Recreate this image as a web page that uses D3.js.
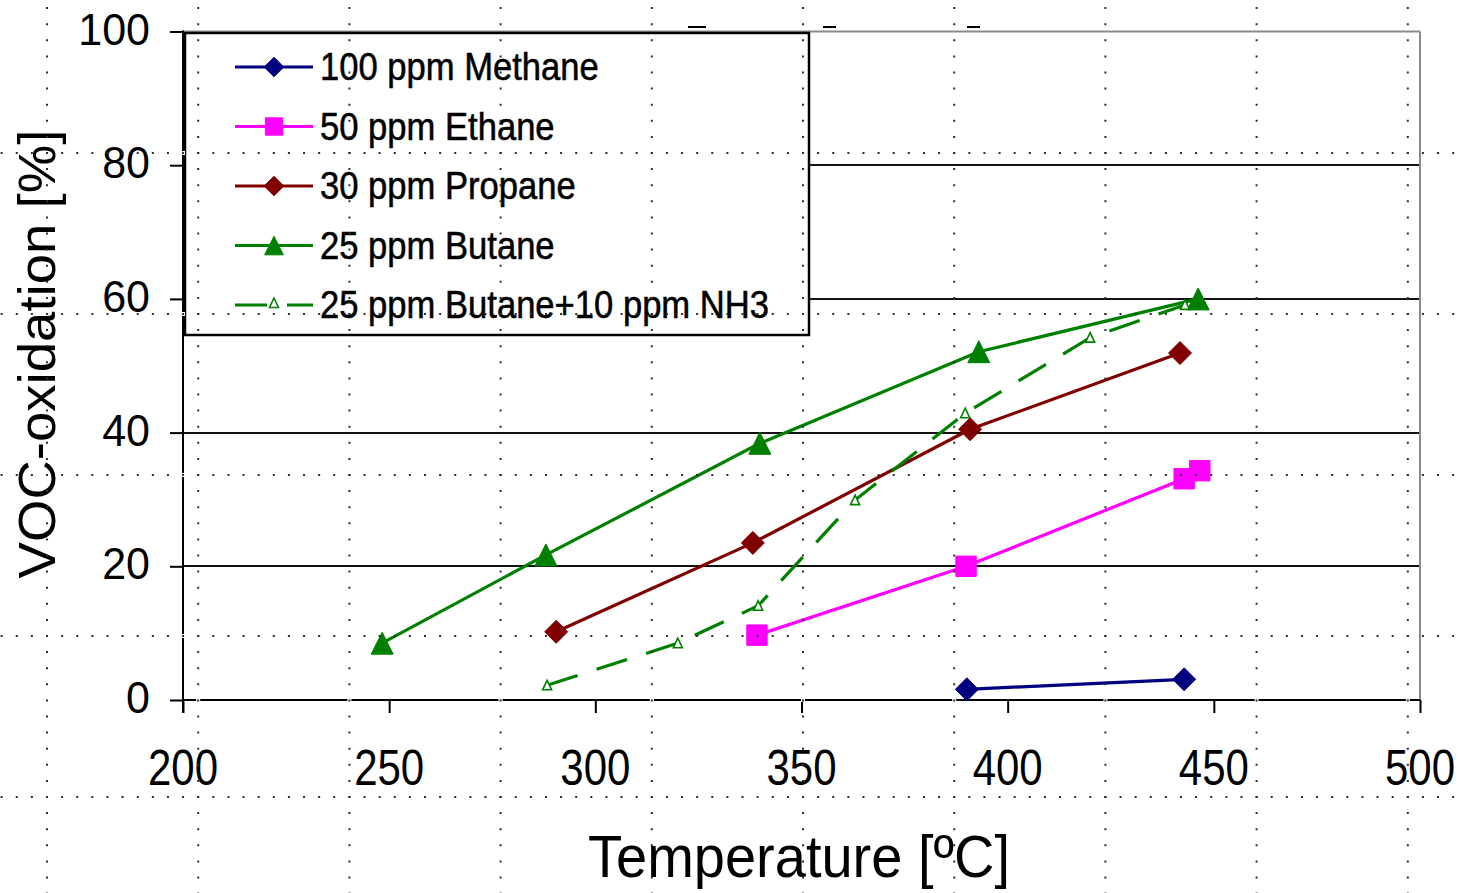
<!DOCTYPE html>
<html>
<head>
<meta charset="utf-8">
<script src="https://cdn.jsdelivr.net/npm/d3@7"></script>
<style>
  html, body { margin: 0; padding: 0; background: #fff; }
  svg { display: block; }
  text { font-family: "Liberation Sans", Arial, Helvetica, sans-serif; fill: #000; }
</style>
</head>
<body>
<svg id="chart" width="1459" height="893"></svg>
<script>
// ---- data: temperature [ºC] vs VOC oxidation [%] ----
const methaneT   = [390.1, 442.8];
const methaneV   = [1.6, 3.1];
const ethaneT    = [339.2, 389.9, 442.8, 446.6];
const ethaneV    = [9.7, 20.0, 33.1, 34.3];
const propaneT   = [290.5, 338.2, 390.9, 441.8];
const propaneV   = [10.2, 23.5, 40.5, 51.9];
const butaneT    = [248.3, 288.0, 339.9, 393.0, 446.2];
const butaneV    = [8.5, 21.7, 38.4, 52.1, 60.0];
const butaneNh3T = [288.3, 320.0, 339.5, 363.0, 389.7, 420.0, 443.0];
const butaneNh3V = [2.2, 8.5, 14.1, 29.9, 42.9, 54.2, 59.1];

const seriesNames = ["100 ppm Methane", "50 ppm Ethane", "30 ppm Propane",
                     "25 ppm Butane", "25 ppm Butane+10 ppm NH3"];
const xTicks = [200, 250, 300, 350, 400, 450, 500];
const yTicks = [0, 20, 40, 60, 80, 100];
const gridValues = [20, 40, 60, 80];
const xTitle = "Temperature [ºC]";
const yTitle = "VOC-oxidation [%]";

// ---- styling per series ----
const seriesStyle = [
  { color: "#000080", marker: "diamond",  dashed: false },
  { color: "#ff00ff", marker: "square",   dashed: false },
  { color: "#800000", marker: "diamond",  dashed: false },
  { color: "#008000", marker: "triangle", dashed: false },
  { color: "#008000", marker: "openTri",  dashed: true  }
];
const seriesData = [
  [methaneT, methaneV], [ethaneT, ethaneV], [propaneT, propaneV],
  [butaneT, butaneV], [butaneNh3T, butaneNh3V]
].map(([t, v], i) => ({
  name: seriesNames[i],
  style: seriesStyle[i],
  points: t.map((x, j) => ({ x, y: v[j] }))
}));

// ---- layout ----
const W = 1459, H = 893;
const plot = { left: 183, right: 1420, top: 31.5, bottom: 700 };
const x = d3.scaleLinear().domain([200, 500]).range([plot.left, plot.right]);
const y = d3.scaleLinear().domain([0, 100]).range([plot.bottom, plot.top]);

const svg = d3.select("#chart");

// marker outlines, size scaled by k
function markerPath(type, k) {
  const p = d3.path();
  if (type === "diamond") {
    const w = 11.5 * k, h = 11.5 * k;
    p.moveTo(0, -h); p.lineTo(w, 0); p.lineTo(0, h); p.lineTo(-w, 0); p.closePath();
  } else if (type === "square") {
    const s = 10.2 * k;
    p.rect(-s, -s, 2 * s, 2 * s);
  } else if (type === "triangle") {
    const s = 11 * k;
    p.moveTo(0, -s); p.lineTo(s, s); p.lineTo(-s, s); p.closePath();
  } else {
    p.moveTo(0, -5); p.lineTo(4.5, 4.5); p.lineTo(-4.5, 4.5); p.closePath();
  }
  return p.toString();
}
function drawMarker(g, type, color, k) {
  const open = type === "openTri";
  g.append("path")
    .attr("d", markerPath(type, k))
    .attr("fill", open ? "#fff" : color)
    .attr("stroke", color)
    .attr("stroke-width", open ? 1.6 : 1);
}

// ---- horizontal gridlines ----
svg.append("g").selectAll("line").data(gridValues).join("line")
  .attr("x1", plot.left).attr("x2", plot.right)
  .attr("y1", d => Math.round(y(d))).attr("y2", d => Math.round(y(d)))
  .attr("stroke", "#111").attr("stroke-width", 2);

// ---- plot frame (top & right in grey) ----
svg.append("line")
  .attr("x1", plot.left).attr("x2", plot.right)
  .attr("y1", plot.top).attr("y2", plot.top)
  .attr("stroke", "#8a8a8a").attr("stroke-width", 2);
svg.append("line")
  .attr("x1", plot.right).attr("x2", plot.right)
  .attr("y1", plot.top).attr("y2", plot.bottom)
  .attr("stroke", "#8a8a8a").attr("stroke-width", 2);

// ---- axes ----
const tickLen = 13;
const xAxisG = svg.append("g").attr("transform", `translate(0,${plot.bottom})`)
  .call(d3.axisBottom(x).tickValues(xTicks).tickSize(tickLen).tickPadding(0).tickFormat(""));
const yAxisG = svg.append("g").attr("transform", `translate(${plot.left},0)`)
  .call(d3.axisLeft(y).tickValues(yTicks).tickSize(tickLen).tickPadding(0).tickFormat(""));
[xAxisG, yAxisG].forEach(g => {
  g.selectAll("line").attr("stroke", "#000").attr("stroke-width", 2);
  g.select(".domain").remove();
});
svg.append("line")
  .attr("x1", plot.left).attr("x2", plot.right)
  .attr("y1", plot.bottom).attr("y2", plot.bottom)
  .attr("stroke", "#000").attr("stroke-width", 2);
svg.append("line")
  .attr("x1", plot.left).attr("x2", plot.left)
  .attr("y1", plot.top - 1).attr("y2", plot.bottom + tickLen)
  .attr("stroke", "#000").attr("stroke-width", 2);

// tick labels
svg.append("g").selectAll("text").data(xTicks).join("text")
  .attr("transform", d => `translate(${x(d)},${plot.bottom + 85}) scale(1,1.2)`)
  .attr("text-anchor", "middle")
  .attr("font-size", 42)
  .text(d => d);
svg.append("g").selectAll("text").data(yTicks).join("text")
  .attr("transform", d => `translate(150,${y(d) + 13}) scale(1,1.03)`)
  .attr("text-anchor", "end")
  .attr("font-size", 43)
  .text(d => d);

// axis titles
svg.append("text")
  .attr("transform", `translate(799,877) scale(1,1.05)`)
  .attr("text-anchor", "middle")
  .attr("font-size", 56)
  .text(xTitle);
svg.append("text")
  .attr("transform", `translate(55,354) rotate(-90) scale(1.05,1)`)
  .attr("text-anchor", "middle")
  .attr("font-size", 52)
  .text(yTitle);

// ---- series lines and markers ----
const line = d3.line().x(d => x(d.x)).y(d => y(d.y));
const dash = "32,20";
const seriesG = svg.append("g");
seriesData.forEach(s => {
  seriesG.append("path")
    .datum(s.points)
    .attr("d", line)
    .attr("fill", "none")
    .attr("stroke", s.style.color)
    .attr("stroke-width", 3.2)
    .attr("stroke-dasharray", s.style.dashed ? dash : null);
});
seriesData.forEach(s => {
  s.points.forEach(p => {
    const g = seriesG.append("g").attr("transform", `translate(${x(p.x)},${y(p.y)})`);
    drawMarker(g, s.style.marker, s.style.color, 1);
  });
});

// ---- legend ----
const legend = svg.append("g");
legend.append("rect")
  .attr("x", 185).attr("y", 33).attr("width", 624).attr("height", 302)
  .attr("fill", "#fff").attr("stroke", "#000").attr("stroke-width", 2.5);
seriesData.forEach((s, i) => {
  const cy = 67 + i * 59.5;
  const row = legend.append("g").attr("transform", `translate(0,${cy})`);
  row.append("line")
    .attr("x1", 235).attr("x2", 313).attr("y1", 0).attr("y2", 0)
    .attr("stroke", s.style.color).attr("stroke-width", 3)
    .attr("stroke-dasharray", s.style.dashed ? dash : null);
  const m = row.append("g").attr("transform", `translate(274,${s.style.dashed ? -2 : 0})`);
  drawMarker(m, s.style.marker, s.style.color, 0.85);
  row.append("text")
    .attr("transform", `translate(320,13) scale(1,1.1)`)
    .attr("font-size", 34.6)
    .attr("stroke", "#000").attr("stroke-width", 0.5)
    .text(s.name);
});

// ---- remnants of a clipped heading above the frame ----
const headingBits = [[688, 706], [823, 836], [967, 980]];
svg.append("g").selectAll("line").data(headingBits).join("line")
  .attr("x1", d => d[0]).attr("x2", d => d[1])
  .attr("y1", 27).attr("y2", 27)
  .attr("stroke", "#000").attr("stroke-width", 2);

// ---- dotted page grid over the figure ----
const sheetCols = d3.range(10).map(i => 47 + i * 151.2);
const sheetRows = d3.range(5).map(i => 153 + i * 161);
const sheet = svg.append("g");
// the page grid breaks the axis lines where it crosses them
sheet.selectAll("rect.gx").data(sheetCols.filter(c => c > plot.left && c < plot.right + 5)).join("rect")
  .attr("x", d => d - 2).attr("y", plot.bottom - 2).attr("width", 4).attr("height", 4).attr("fill", "#fff");
sheet.selectAll("rect.gy").data(sheetRows.filter(r => r > plot.top && r < plot.bottom)).join("rect")
  .attr("x", plot.left - 2).attr("y", d => d - 2).attr("width", 4).attr("height", 4).attr("fill", "#fff");
sheet.selectAll("line.v").data(sheetCols).join("line")
  .attr("x1", d => d).attr("x2", d => d)
  .attr("y1", 153 - 1 - 16.1 * 9).attr("y2", H)
  .attr("stroke", "#2e2e2e").attr("stroke-width", 2)
  .attr("stroke-dasharray", "2,14.1");
sheet.selectAll("line.h").data(sheetRows).join("line")
  .attr("y1", d => d).attr("y2", d => d)
  .attr("x1", 47 - 1 - 15.12 * 3).attr("x2", W)
  .attr("stroke", "#2e2e2e").attr("stroke-width", 2)
  .attr("stroke-dasharray", "2,13.12");
</script>
</body>
</html>
